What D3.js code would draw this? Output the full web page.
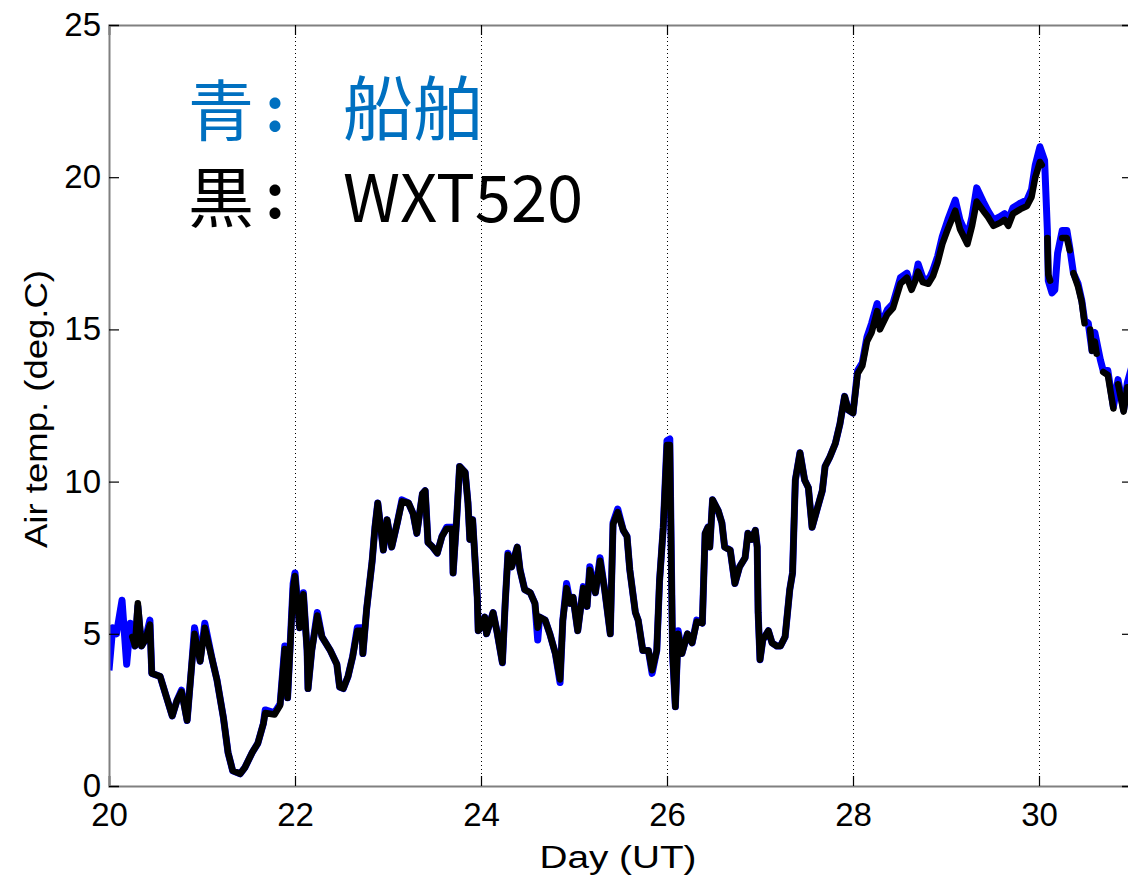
<!DOCTYPE html>
<html><head><meta charset="utf-8">
<script src="https://cdn.jsdelivr.net/npm/d3@7"></script>
<style>body{margin:0;background:#fff}svg{display:block}</style>
</head><body>
<svg id="c" width="1128" height="880"></svg>
<script>
// ---- data ----
const shipDays = [20.00,20.04,20.08,20.14,20.19,20.23,20.28,20.31,20.35,20.39,20.44,20.46,20.55,20.62,20.68,20.73,20.78,20.84,20.89,20.92,20.98,21.03,21.11,21.16,21.23,21.28,21.33,21.41,21.46,21.54,21.60,21.66,21.68,21.78,21.84,21.89,21.92,21.98,22.00,22.05,22.09,22.13,22.14,22.18,22.24,22.29,22.38,22.45,22.48,22.52,22.57,22.62,22.67,22.72,22.73,22.77,22.83,22.86,22.89,22.95,22.99,23.04,23.10,23.15,23.22,23.27,23.31,23.37,23.40,23.43,23.48,23.53,23.58,23.63,23.69,23.70,23.74,23.77,23.83,23.86,23.88,23.91,23.96,23.97,24.00,24.04,24.06,24.13,24.17,24.23,24.26,24.29,24.33,24.39,24.42,24.47,24.53,24.58,24.61,24.63,24.69,24.74,24.80,24.85,24.88,24.92,24.96,24.99,25.04,25.10,25.14,25.17,25.23,25.28,25.33,25.39,25.42,25.47,25.53,25.57,25.60,25.66,25.69,25.74,25.80,25.84,25.89,25.92,25.96,26.00,26.03,26.06,26.09,26.12,26.16,26.22,26.27,26.32,26.38,26.41,26.44,26.46,26.49,26.55,26.59,26.62,26.68,26.73,26.78,26.84,26.87,26.91,26.95,26.97,26.98,27.00,27.03,27.09,27.13,27.18,27.22,27.27,27.32,27.35,27.38,27.43,27.48,27.52,27.56,27.61,27.67,27.70,27.75,27.81,27.86,27.91,27.95,28.00,28.05,28.10,28.15,28.20,28.26,28.29,28.37,28.43,28.51,28.58,28.63,28.67,28.70,28.75,28.81,28.86,28.91,28.96,29.02,29.10,29.15,29.23,29.28,29.33,29.40,29.45,29.51,29.58,29.63,29.67,29.72,29.80,29.87,29.92,29.96,30.01,30.06,30.09,30.10,30.14,30.17,30.20,30.25,30.30,30.33,30.37,30.42,30.46,30.49,30.53,30.57,30.60,30.66,30.69,30.74,30.80,30.85,30.91,30.95,31.00];
const shipTemps = [3.8,5.2,5.0,6.1,4.0,5.35,4.6,5.9,4.6,4.8,5.45,3.7,3.6,2.9,2.3,2.8,3.15,2.15,4.0,5.2,4.1,5.35,4.15,3.5,2.25,1.1,0.5,0.4,0.6,1.1,1.4,2.05,2.5,2.4,2.7,4.6,2.9,6.65,7.0,5.2,6.35,4.45,3.2,4.45,5.7,4.9,4.45,4.0,3.25,3.2,3.6,4.25,5.2,5.2,4.35,5.8,7.4,8.5,9.3,7.75,8.75,7.85,8.65,9.4,9.3,8.95,8.3,9.6,9.7,8.0,7.85,7.65,8.2,8.5,8.5,7.0,8.85,10.5,10.3,9.3,8.1,8.75,6.2,5.1,5.2,5.55,5.0,5.7,5.1,4.05,6.0,7.65,7.2,7.85,7.1,6.45,6.35,6.0,4.8,5.55,5.45,5.0,4.35,3.4,5.45,6.65,6.0,6.2,5.1,6.55,5.9,7.2,6.35,7.5,6.45,5.0,8.65,9.1,8.4,8.2,7.1,5.7,5.45,4.45,4.45,3.7,4.45,6.75,8.5,11.35,11.4,4.35,2.6,5.1,4.35,5.0,4.7,5.45,5.35,8.3,8.5,7.85,9.4,9.05,8.65,7.85,7.75,6.65,7.2,7.5,8.3,8.1,8.4,7.85,5.7,4.15,4.8,5.1,4.7,4.6,4.6,4.9,6.45,7.0,10.05,10.95,10.05,9.8,8.5,9.05,9.7,10.5,10.8,11.25,11.9,12.8,12.35,12.25,13.65,13.9,14.75,15.2,15.85,15.1,15.65,15.85,16.7,16.85,16.4,16.7,17.15,16.7,16.6,16.95,17.4,18.05,18.6,19.25,18.6,18.05,18.7,19.65,19.2,18.9,18.6,18.7,18.8,18.6,19.0,19.15,19.25,19.6,20.4,21.0,20.55,18.25,16.6,16.2,16.3,17.5,18.25,18.25,17.7,16.85,16.5,15.95,15.3,15.2,14.3,14.9,14.0,13.65,13.65,12.45,13.35,12.35,13.25,13.8];

// WXT520 (null = no data)
const wxtDays = [20.25,20.28,20.31,20.35,20.39,20.44,20.46,20.55,20.62,20.68,20.73,20.78,20.84,20.89,20.92,20.98,21.03,21.11,21.16,21.23,21.28,21.33,21.41,21.46,21.54,21.60,21.66,21.68,21.78,21.84,21.89,21.92,21.98,22.00,22.05,22.09,22.13,22.14,22.18,22.24,22.29,22.38,22.45,22.48,22.52,22.57,22.62,22.67,22.72,22.73,22.77,22.83,22.86,22.89,22.95,22.99,23.04,23.10,23.15,23.22,23.27,23.31,23.37,23.40,23.43,23.48,23.53,23.58,23.63,23.69,23.70,23.74,23.77,23.83,23.86,23.88,23.91,23.96,23.97,24.00,24.04,24.06,24.13,24.17,24.23,24.26,24.29,24.33,24.39,24.42,24.47,24.53,24.58,24.61,24.63,24.69,24.74,24.80,24.85,24.88,24.92,24.96,24.99,25.04,25.10,25.14,25.17,25.23,25.28,25.33,25.39,25.42,25.47,25.53,25.57,25.60,25.66,25.69,25.74,25.80,25.84,25.89,25.92,25.96,26.00,26.03,26.06,26.09,26.12,26.16,26.22,26.27,26.32,26.38,26.41,26.44,26.46,26.49,26.55,26.59,26.62,26.68,26.73,26.78,26.84,26.87,26.91,26.95,26.97,26.98,27.00,27.03,27.09,27.13,27.18,27.22,27.27,27.32,27.35,27.38,27.43,27.48,27.52,27.56,27.61,27.67,27.70,27.75,27.81,27.86,27.91,27.95,28.00,28.05,28.10,28.15,28.20,28.26,28.29,28.37,28.43,28.51,28.58,28.63,28.67,28.70,28.75,28.81,28.86,28.91,28.96,29.02,29.10,29.15,29.23,29.28,29.33,29.40,29.45,29.51,29.58,29.63,29.67,29.72,29.80,29.87,29.92,29.96,30.01,30.03,30.05,30.09,30.10,30.12,30.18,30.25,30.30,30.33,30.35,30.37,30.42,30.46,30.49,30.52,30.55,30.57,30.60,30.62,30.65,30.69,30.74,30.80,30.82,30.85,30.91,30.95];
const wxtTemps = [4.9,4.6,6.0,4.6,4.8,5.3,3.7,3.6,2.9,2.3,2.8,3.1,2.15,4.0,5.0,4.1,5.2,4.15,3.5,2.25,1.1,0.5,0.4,0.6,1.1,1.4,2.05,2.4,2.35,2.65,4.5,2.9,6.5,6.9,5.2,6.3,4.45,3.2,4.45,5.6,4.9,4.45,4.0,3.25,3.2,3.6,4.25,5.1,5.1,4.35,5.8,7.4,8.5,9.3,7.75,8.75,7.85,8.65,9.35,9.3,8.95,8.3,9.6,9.7,8.0,7.85,7.65,8.2,8.45,8.45,7.0,8.85,10.5,10.3,9.3,8.1,8.75,6.2,5.1,5.2,5.55,5.0,5.7,5.1,4.05,6.0,7.6,7.2,7.85,7.1,6.45,6.35,6.0,5.2,5.55,5.45,5.0,4.35,3.5,5.45,6.5,6.0,6.2,5.1,6.5,5.9,7.1,6.35,7.4,6.45,5.0,8.6,9.0,8.4,8.2,7.1,5.7,5.45,4.45,4.45,3.8,4.45,6.75,8.5,11.2,11.2,4.35,2.6,5.0,4.35,5.0,4.7,5.4,5.35,8.3,8.5,7.85,9.4,9.05,8.65,7.85,7.75,6.65,7.2,7.5,8.3,8.1,8.4,7.85,5.7,4.15,4.8,5.1,4.7,4.6,4.6,4.9,6.45,7.0,10.05,10.95,10.05,9.8,8.5,9.05,9.7,10.5,10.8,11.25,11.9,12.8,12.35,12.25,13.55,13.8,14.6,14.9,15.6,15.0,15.5,15.7,16.5,16.7,16.3,16.6,16.9,16.55,16.5,16.75,17.2,17.8,18.3,18.9,18.3,17.8,18.4,19.2,18.9,18.7,18.4,18.5,18.6,18.4,18.8,18.95,19.05,19.35,20.0,20.5,20.4,null,18.0,16.8,16.6,null,18.0,18.0,17.6,null,16.85,16.4,15.9,15.2,null,15.0,14.3,14.6,14.2,null,13.6,13.5,12.4,null,13.2,12.3,13.1];

const xTicks = [20,22,24,26,28,30];
const yTicks = [0,5,10,15,20,25];
const xLabel = "Day (UT)";
const yLabel = "Air temp. (deg.C)";
const legendRows = [
  {key:"青", name:"船舶", color:"#0070C0"},
  {key:"黒", name:"WXT520", color:"#000000"}
];

// ---- layout ----
const svg = d3.select("#c");
const L = 109, T = 25, R = 1132, B = 786;
const x = d3.scaleLinear().domain([20,31]).range([L,R]);
const y = d3.scaleLinear().domain([0,25]).range([B,T]);
const font = "'Liberation Sans', Arial, Helvetica, sans-serif";

svg.append("rect").attr("width",1128).attr("height",880).attr("fill","#fff");

svg.append("defs").append("clipPath").attr("id","plot")
  .append("rect").attr("x",L).attr("y",T).attr("width",R-L).attr("height",B-T);

// dotted vertical grid
svg.append("g").selectAll("line").data(xTicks.filter(d=>d>20)).join("line")
  .attr("x1",d=>x(d)+0.5).attr("x2",d=>x(d)+0.5).attr("y1",T).attr("y2",B)
  .attr("stroke","#000").attr("stroke-width",1).attr("stroke-dasharray","1,3");

// lines
const ship = shipDays.map((d,i)=>({d, t:shipTemps[i]}));
const wxt = wxtDays.map((d,i)=>({d, t:wxtTemps[i]}));
const lineGen = d3.line().defined(p=>p.t!=null).x(p=>x(p.d)).y(p=>y(p.t));
const g = svg.append("g").attr("clip-path","url(#plot)");
g.append("path").datum(ship).attr("d",lineGen).attr("fill","none")
  .attr("stroke","#0000ff").attr("stroke-width",7).attr("stroke-linejoin","round");
g.append("path").datum(wxt).attr("d",lineGen).attr("fill","none")
  .attr("stroke","#000").attr("stroke-width",6.5).attr("stroke-linejoin","round").attr("stroke-linecap","round");

// axes frame and ticks
const axB = d3.axisBottom(x).tickValues(xTicks).tickSize(-10).tickPadding(17).tickFormat(d3.format("d"));
const axT = d3.axisTop(x).tickValues(xTicks).tickSize(-10).tickFormat("");
const axLf = d3.axisLeft(y).tickValues(yTicks).tickSize(-10).tickPadding(8).tickFormat(d3.format("d"));
const axRt = d3.axisRight(y).tickValues(yTicks).tickSize(-10).tickFormat("");
function style(sel){
  sel.select(".domain").attr("stroke","#808080").attr("stroke-width",2);
  sel.selectAll(".tick line").attr("stroke","#000").attr("stroke-width",1.2);
  sel.selectAll(".tick text").attr("font-family",font).attr("font-size",33).attr("fill","#000");
}
svg.append("g").attr("transform",`translate(0,${B})`).call(axB).call(style);
svg.append("g").attr("transform",`translate(0,${T})`).call(axT).call(style);
svg.append("g").attr("transform",`translate(${L},0)`).call(axLf).call(style);
svg.append("g").attr("transform",`translate(${R},0)`).call(axRt).call(style);

// axis labels
svg.append("text").attr("x",618).attr("y",868).attr("text-anchor","middle")
  .attr("font-family",font).attr("font-size",31)
  .attr("textLength",157).attr("lengthAdjust","spacingAndGlyphs").text(xLabel);
svg.append("text").attr("transform","translate(47,409) rotate(-90)").attr("text-anchor","middle")
  .attr("font-family",font).attr("font-size",31)
  .attr("textLength",278).attr("lengthAdjust","spacingAndGlyphs").text(yLabel);

// legend annotation
const cjk = "'Noto Sans CJK JP', 'Noto Sans', sans-serif";
const baselines = [135, 222];
legendRows.forEach((r,i)=>{
  svg.append("text").attr("x",188).attr("y",baselines[i]).attr("font-family",cjk)
    .attr("font-size",66).attr("fill",r.color).text(r.key);
  svg.append("text").attr("x",275).attr("y",baselines[i]-4).attr("text-anchor","middle").attr("font-family",cjk)
    .attr("font-size",60).attr("font-weight","bold").attr("fill",r.color).text(":");
  svg.append("text").attr("x",343).attr("y",baselines[i]).attr("font-family",cjk)
    .attr("font-size",i===0?70:65).attr("fill",r.color).text(r.name);
});
</script>
</body></html>
